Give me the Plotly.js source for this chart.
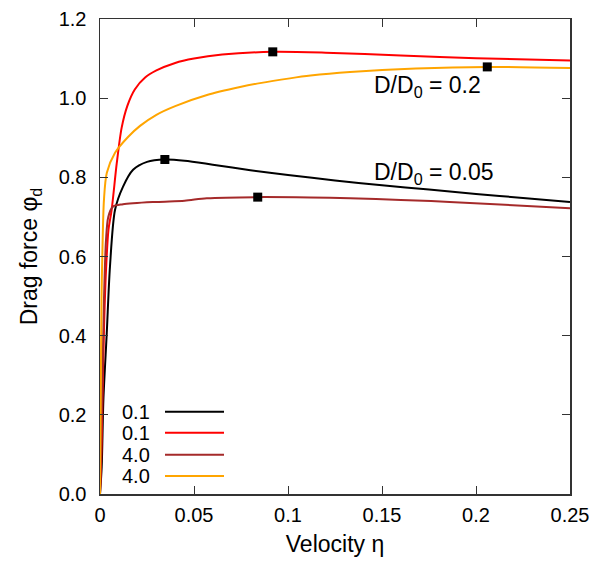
<!DOCTYPE html>
<html>
<head>
<meta charset="utf-8">
<script src="https://cdn.plot.ly/plotly-3.0.1.min.js"></script>
<style>html,body{margin:0;padding:0;background:#fff;} #chart{width:607px;height:561px;}</style>
</head>
<body>
<div id="chart"></div>
<script>
// Series: D/D0 = 0.05 family and D/D0 = 0.2 family (legend labels 0.1 / 4.0)
const legendLabels = ["0.1", "0.1", "4.0", "4.0"];
const colors = ["#000000", "#ff0000", "#a52a2a", "#ffa500"];

const blackX = [0, 0.0009, 0.0018, 0.0036, 0.0053, 0.0080, 0.0122, 0.0176, 0.0250, 0.0345, 0.0450, 0.0600, 0.0800, 0.1000, 0.1250, 0.1500, 0.1750, 0.2000, 0.2250, 0.2500];
const blackY = [0, 0.068, 0.237, 0.407, 0.574, 0.718, 0.776, 0.819, 0.839, 0.845, 0.842, 0.832, 0.818, 0.806, 0.792, 0.780, 0.769, 0.758, 0.748, 0.738];

const redX = [0, 0.0008, 0.0013, 0.0021, 0.0032, 0.0045, 0.0062, 0.0089, 0.0115, 0.0145, 0.0185, 0.0240, 0.0300, 0.0400, 0.0500, 0.0650, 0.0919, 0.1200, 0.1600, 0.2000, 0.2500];
const redY = [0, 0.111, 0.237, 0.414, 0.566, 0.667, 0.718, 0.835, 0.925, 0.980, 1.022, 1.052, 1.070, 1.089, 1.100, 1.110, 1.117, 1.115, 1.108, 1.101, 1.095];

const brownX = [0, 0.0011, 0.0021, 0.0032, 0.0044, 0.0069, 0.0122, 0.0302, 0.0450, 0.0568, 0.0839, 0.1117, 0.1330, 0.1600, 0.1860, 0.2500];
const brownY = [0, 0.237, 0.490, 0.642, 0.700, 0.726, 0.732, 0.738, 0.741, 0.747, 0.750, 0.749, 0.747, 0.743, 0.738, 0.722];

const orangeX = [0, 0.0004, 0.0008, 0.0013, 0.0021, 0.0036, 0.0080, 0.0149, 0.0213, 0.0300, 0.0400, 0.0569, 0.0745, 0.0851, 0.1010, 0.1120, 0.1330, 0.1680, 0.2060, 0.2500];
const orangeY = [0, 0.237, 0.490, 0.616, 0.743, 0.811, 0.862, 0.902, 0.930, 0.958, 0.980, 1.008, 1.028, 1.038, 1.050, 1.057, 1.066, 1.075, 1.079, 1.076];

// Maximum markers
const maxX = [0.0345, 0.0919, 0.0839, 0.2060];
const maxY = [0.845, 1.117, 0.750, 1.079];

// Annotations text
const annoText = ["D/D<sub>0</sub> = 0.2", "D/D<sub>0</sub> = 0.05"];
const annoX = [0.1445, 0.1445];
const annoY = [1.030, 0.810];

const FONT = "Liberation Sans, Arial, sans-serif";

const series = [[blackX, blackY], [redX, redY], [brownX, brownY], [orangeX, orangeY]];
const traces = series.map((s, i) => ({
  x: s[0], y: s[1], type: "scatter", mode: "lines",
  line: {color: colors[i], width: 2, shape: "spline", smoothing: 0.8},
  showlegend: false, hoverinfo: "skip"
}));
traces.push({
  x: maxX, y: maxY, type: "scatter", mode: "markers",
  marker: {symbol: "square", size: 9, color: "#000000"},
  showlegend: false, hoverinfo: "skip"
});

// Custom legend (text left of sample line), paper coords
const legRowsPx = [411.7, 432.7, 454.7, 476];
const plotTop = 19, plotBottom = 494, plotLeft = 100, plotRight = 570;
const py = p => (plotBottom - p) / (plotBottom - plotTop);
const px = p => (p - plotLeft) / (plotRight - plotLeft);

const shapes = [];
const annotations = [];
legendLabels.forEach((lab, i) => {
  const yy = py(legRowsPx[i]);
  shapes.push({type: "line", xref: "paper", yref: "paper", x0: px(165), x1: px(224), y0: yy, y1: yy,
    line: {color: colors[i], width: 2}});
  annotations.push({xref: "paper", yref: "paper", x: px(152), y: yy, xanchor: "right", yanchor: "middle",
    text: lab, showarrow: false, font: {family: FONT, size: 20, color: "#000"}});
});
annoText.forEach((t, i) => {
  annotations.push({x: annoX[i], y: annoY[i], xanchor: "left", yanchor: "middle", text: t,
    showarrow: false, font: {family: FONT, size: 23, color: "#000"}});
});

const layout = {
  width: 607, height: 561,
  margin: {l: 100, r: 37, t: 19, b: 67, pad: 0},
  paper_bgcolor: "#fff", plot_bgcolor: "#fff",
  font: {family: FONT, size: 20, color: "#000"},
  xaxis: {
    range: [0, 0.25], dtick: 0.05, tick0: 0, ticks: "inside", ticklen: 8, tickwidth: 1, tickcolor: "#333",
    showline: true, linecolor: "#333", linewidth: 1.5, mirror: "ticks", showgrid: false, zeroline: false,
    tickfont: {family: FONT, size: 20}, ticklabelstandoff: 2,
    title: {text: "Velocity η", font: {family: FONT, size: 23}, standoff: 11}
  },
  yaxis: {
    range: [0, 1.2], dtick: 0.2, tick0: 0, tickformat: ".1f", ticks: "inside", ticklen: 8, tickwidth: 1, tickcolor: "#333",
    showline: true, linecolor: "#333", linewidth: 1.5, mirror: "ticks", showgrid: false, zeroline: false,
    tickfont: {family: FONT, size: 20}, ticklabelstandoff: 8,
    title: {text: "Drag force φ<sub>d</sub>", font: {family: FONT, size: 23}, standoff: 14}
  },
  shapes: shapes,
  annotations: annotations
};

Plotly.newPlot("chart", traces, layout, {staticPlot: true, displayModeBar: false});
</script>
</body>
</html>
